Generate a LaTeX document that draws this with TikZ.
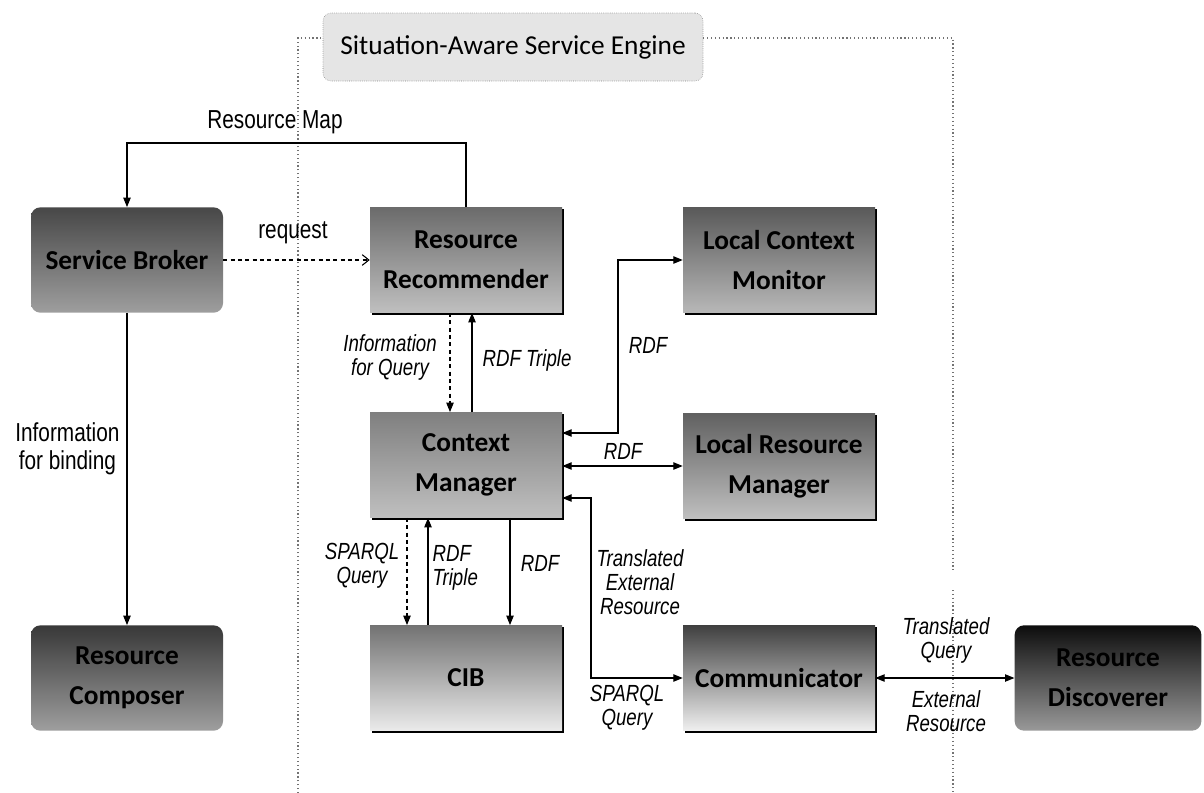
\documentclass[tikz,border=0pt]{standalone}
\usepackage{fontspec}
\setmainfont{Carlito}
\newfontfamily\carlitofam{Carlito}
\newfontfamily\narrowfam[FakeStretch=0.8]{Liberation Sans}
\usetikzlibrary{arrows.meta,shadows}

\newcommand\bxfont{\carlitofam\bfseries\fontsize{20.5}{30}\selectfont}
\newcommand\ttlfont{\carlitofam\fontsize{20.5}{24}\selectfont}
\newcommand\lbfont{\narrowfam\fontsize{19.5}{21}\selectfont}
\newcommand\itlfont{\narrowfam\itshape\fontsize{17.5}{18}\selectfont}

\tikzset{
  unit/.style={minimum width=144pt, minimum height=79pt, align=center,
    font=\bxfont, inner sep=2pt},
  flatbox/.style={unit, drop shadow={shadow xshift=1.5pt, shadow yshift=-1.5pt,
    fill=black, opacity=1}},
  roundbox/.style={unit, rounded corners=7pt},
  lbl/.style={font=\lbfont, align=center, inner sep=1pt},
  ilbl/.style={font=\itlfont, align=center, inner sep=1pt},
  tip/.tip={Triangle[length=7pt,width=5.5pt]},
  conn/.style={draw, line width=0.8pt, -tip},
  both/.style={draw, line width=0.8pt, tip-tip},
  dconn/.style={dash pattern=on 3pt off 2.5pt},
  frameline/.style={draw=black!55, dotted, line width=0.9pt}
}

\begin{document}
\begin{tikzpicture}[x=0.75pt,y=-0.75pt]
\useasboundingbox (0,0) rectangle (1204,793);

% engine title and frame
\node[draw=black!50, densely dotted, rounded corners=6pt, fill=black!10,
      minimum width=285pt, minimum height=51pt, font=\ttlfont] (title) at (513,47)
      {Situation-Aware Service Engine};
\coordinate (ftl) at (298,38);
\coordinate (ftr) at (953,38);
\coordinate (fbl) at (298,793);
\coordinate (fbr) at (953,793);
\coordinate (fgap1) at (953,570);
\coordinate (fgap2) at (953,590);
\draw[frameline] (fbl) -- (ftl) -- (title.west |- ftl);
\draw[frameline] (title.east |- ftr) -- (ftr) -- (fgap1);
\draw[frameline] (fgap2) -- (fbr);

% components
\node[roundbox, top color=black!72, bottom color=black!38] (sb) at (127,260) {Service Broker};
\node[flatbox, top color=black!58, bottom color=black!25] (rr) at (466,260) {Resource\\Recommender};
\node[flatbox, top color=black!65, bottom color=black!28] (lcm) at (779,260) {Local Context\\Monitor};
\node[flatbox, top color=black!50, bottom color=black!25] (cm) at (466,465) {Context\\Manager};
\node[flatbox, top color=black!62, bottom color=black!25] (lrm) at (779,466) {Local Resource\\Manager};
\node[roundbox, top color=black!78, bottom color=black!38] (rc) at (127,678) {Resource\\Composer};
\node[flatbox, top color=black!55, bottom color=black!8] (cib) at (466,678) {CIB};
\node[flatbox, top color=black!75, bottom color=black!6] (comm) at (779,678) {Communicator};
\node[roundbox, minimum width=140pt, top color=black!95, bottom color=black!40] (disc) at (1108,678) {Resource\\Discoverer};

% broker side
\coordinate (rmap) at (127,143);
\draw[conn] (rr.north) |- (rmap) -- (sb.north);
\node[lbl] (lrmap) at (275,122) {Resource Map};
\draw[draw, line width=0.8pt, dconn, -{Straight Barb[length=5pt,width=8pt]}] (sb.east) -- (rr.west);
\node[lbl] (lreq) at (293,233) {request};
\draw[conn] (sb.south) -- (rc.north);
\node[lbl, anchor=east] (lbind) at (121,449) {Information\\for binding};

% recommender <-> context manager
\draw[conn, dconn] ([xshift=-12pt]rr.south) -- ([xshift=-12pt]cm.north);
\node[ilbl] (linfo) at (390,357) {Information\\for Query};
\draw[conn] ([xshift=4.5pt]cm.north) -- ([xshift=4.5pt]rr.south);
\node[ilbl] (ltrip) at (527,360) {RDF Triple};

% context manager <-> local components
\coordinate (c1) at (618,0);
\draw[both] ([yshift=24pt]cm.east) -| (c1 |- lcm.west) -- (lcm.west);
\node[ilbl] (lrdf1) at (648,345) {RDF};
\draw[both] (cm.east |- lrm.west) -- (lrm.west);
\node[ilbl] (lrdf2) at (623,451) {RDF};
\coordinate (c2) at (591,0);
\draw[both] ([yshift=-24.75pt]cm.east) -| (c2 |- comm.west) -- (comm.west);
\node[ilbl, align=center] (ltrans) at (640,582) {Translated\\External\\Resource};
\node[ilbl] (lspq2) at (627,708) {SPARQL\\Query};

% context manager <-> CIB
\draw[conn, dconn] ([xshift=-44.25pt]cm.south) -- ([xshift=-44.25pt]cib.north);
\node[ilbl] (lspq1) at (362,566) {SPARQL\\Query};
\draw[conn] ([xshift=-28.5pt]cib.north) -- ([xshift=-28.5pt]cm.south);
\node[ilbl, anchor=west, align=left] (ltrip2) at (431,568) {RDF\\Triple};
\draw[conn] ([xshift=33pt]cm.south) -- ([xshift=33pt]cib.north);
\node[ilbl] (lrdf3) at (540,563) {RDF};

% communicator <-> discoverer
\draw[both] (comm.east) -- (disc.west);
\node[ilbl] (ltq) at (946,640) {Translated\\Query};
\node[ilbl] (ler) at (946,711) {External\\Resource};
\end{tikzpicture}
\end{document}
